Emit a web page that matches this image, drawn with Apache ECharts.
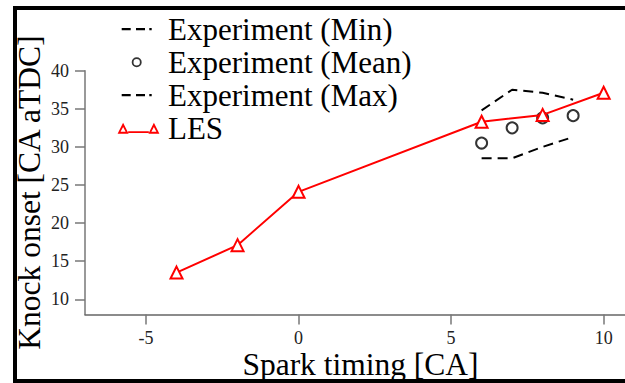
<!DOCTYPE html>
<html>
<head>
<meta charset="utf-8">
<script src="https://cdn.jsdelivr.net/npm/echarts@6/dist/echarts.min.js"></script>
<style>
  html, body { margin: 0; padding: 0; background: #fff; }
  #chart { width: 625px; height: 383px; }
</style>
</head>
<body>
<div id="chart"></div>
<script>
// Spark timing sweep: knock onset, measured band vs. LES
const sparkExp = [6, 7, 8, 9];
const expMin = [28.5, 28.5, 30.0, 31.3];
const expMean = [30.5, 32.5, 33.8, 34.1];
const expMax = [34.8, 37.5, 37.1, 36.2];

const sparkLes = [-4, -2, 0, 6, 8, 10];
const les = [13.5, 17.1, 24.1, 33.3, 34.2, 37.1];

const xTicks = [-5, 0, 5, 10];
const yTicks = [10, 15, 20, 25, 30, 35, 40];

const pairs = (xs, ys) => xs.map((x, i) => [x, ys[i]]);

const serif = 'Liberation Serif';
const labelStyle = { fontFamily: serif, fontSize: 18, color: '#222' };

// Legend glyphs (43 x 11 boxes; the 0.01 specks only pin the box size)
const dashIcon = 'path://M0,0h0.01v0.01h-0.01z M4.7,4.4h9v2.2h-9z M19,4.4h9v2.2h-9z M32.3,4.4h2.4v2.2h-2.4z M43,11h-0.01v-0.01h0.01z';
const ringIcon = 'path://M0,0h0.01v0.01h-0.01z M14.7,5.5a5,5 0 1,0 10,0a5,5 0 1,0 -10,0z M16.5,5.5a3.2,3.2 0 1,1 6.4,0a3.2,3.2 0 1,1 -6.4,0z M43,11h-0.01v-0.01h0.01z';
const lesIcon = 'path://M5,0L10,10L0,10Z M5,3.9L2.7,8.3L7.3,8.3Z M9.6,7.7L28.4,7.7L28.4,9.3L9.6,9.3Z M33,0L38,10L28,10Z M33,3.9L30.7,8.3L35.3,8.3Z';

const chart = echarts.init(document.getElementById('chart'), null, { renderer: 'svg' });

chart.setOption({
  backgroundColor: '#fff',
  animation: false,
  grid: { left: 85, right: 0, top: 70.7, bottom: 68.5, containLabel: false, outerBoundsMode: 'none' },
  legend: {
    orient: 'vertical',
    left: 112,
    top: 7.7,
    itemWidth: 43,
    itemHeight: 11,
    itemGap: 0,
    textStyle: { fontFamily: serif, fontSize: 31, color: '#000', lineHeight: 33, padding: [0, 0, 0, 3] },
    data: [
      { name: 'Experiment (Min)', icon: dashIcon, itemStyle: { color: '#000', borderWidth: 0 } },
      { name: 'Experiment (Mean)', icon: ringIcon, itemStyle: { color: '#000', borderWidth: 0 } },
      { name: 'Experiment (Max)', icon: dashIcon, itemStyle: { color: '#000', borderWidth: 0 } },
      { name: 'LES', icon: lesIcon, itemStyle: { color: '#ff0000', borderWidth: 0 } }
    ]
  },
  xAxis: {
    type: 'value',
    min: -7,
    max: 10.7,
    name: 'Spark timing [CA]',
    nameLocation: 'middle',
    nameGap: 34,
    nameMoveOverlap: false,
    nameTextStyle: { fontFamily: serif, fontSize: 31.5, color: '#000', padding: [0, 0, 0, 11] },
    axisLine: { show: true, onZero: false, lineStyle: { color: '#666', width: 1.5 } },
    axisTick: { show: true, inside: false, length: 10, customValues: xTicks, lineStyle: { color: '#777', width: 1.5 } },
    axisLabel: Object.assign({ margin: 14, customValues: xTicks }, labelStyle),
    splitLine: { show: false }
  },
  yAxis: {
    type: 'value',
    min: 8,
    max: 40,
    name: 'Knock onset [CA aTDC]',
    nameLocation: 'middle',
    nameGap: 40,
    nameMoveOverlap: false,
    nameTextStyle: { fontFamily: serif, fontSize: 31.5, color: '#000' },
    axisLine: { show: true, onZero: false, lineStyle: { color: '#777', width: 1.5 } },
    axisTick: { show: true, inside: false, length: 10, customValues: yTicks, lineStyle: { color: '#777', width: 1.5 } },
    axisLabel: Object.assign({ margin: 16, customValues: yTicks }, labelStyle),
    splitLine: { show: false }
  },
  graphic: [{
    type: 'rect',
    silent: true,
    z: 100,
    shape: { x: 15, y: 8, width: 700, height: 373 },
    style: { fill: 'none', stroke: '#000', lineWidth: 4 }
  }],
  series: [
    {
      name: 'Experiment (Min)',
      type: 'line',
      data: pairs(sparkExp, expMin),
      symbol: 'none',
      itemStyle: { color: '#000' },
      lineStyle: { color: '#000', width: 2, type: [10, 6] }
    },
    {
      name: 'Experiment (Mean)',
      type: 'scatter',
      data: pairs(sparkExp, expMean),
      symbol: 'emptyCircle',
      symbolSize: 11,
      itemStyle: { color: '#000', borderColor: '#000', borderWidth: 2.5 }
    },
    {
      name: 'Experiment (Max)',
      type: 'line',
      data: pairs(sparkExp, expMax),
      symbol: 'none',
      itemStyle: { color: '#000' },
      lineStyle: { color: '#000', width: 2, type: [10, 6] }
    },
    {
      name: 'LES',
      type: 'line',
      data: pairs(sparkLes, les),
      symbol: 'emptyTriangle',
      symbolSize: 12,
      itemStyle: { color: '#ff0000', borderWidth: 2 },
      lineStyle: { color: '#ff0000', width: 2 }
    }
  ]
});
</script>
</body>
</html>
